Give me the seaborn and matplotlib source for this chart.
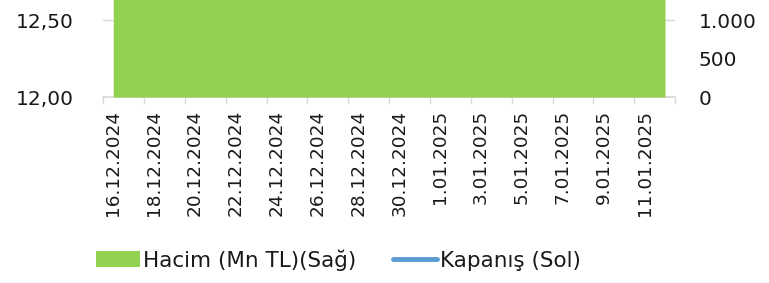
import matplotlib
matplotlib.use("Agg")
import matplotlib.pyplot as plt
import seaborn as sns
import numpy as np
import pandas as pd
from matplotlib.patches import Patch
from matplotlib.lines import Line2D

# Data (daily, 16.12.2024 - 12.01.2025)
dates = ["16.12.2024", "17.12.2024", "18.12.2024", "19.12.2024", "20.12.2024",
         "21.12.2024", "22.12.2024", "23.12.2024", "24.12.2024", "25.12.2024",
         "26.12.2024", "27.12.2024", "28.12.2024", "29.12.2024", "30.12.2024",
         "31.12.2024", "1.01.2025", "2.01.2025", "3.01.2025", "4.01.2025",
         "5.01.2025", "6.01.2025", "7.01.2025", "8.01.2025", "9.01.2025",
         "10.01.2025", "11.01.2025", "12.01.2025"]
# volume runs off the top of the right axis on every day
volume = [2850, 2600, 2400, 2950, 3100, 3100, 3100, 2700, 2500, 2300,
          2650, 2800, 2800, 2800, 3050, 2900, 2900, 2450, 2600, 2600,
          2600, 2750, 3000, 2850, 2550, 2700, 2700, 2700]
# closing price sits above the visible left range
close = [13.10, 13.05, 12.98, 13.20, 13.32, 13.32, 13.32, 13.15, 13.08, 12.95,
         13.02, 13.12, 13.12, 13.12, 13.25, 13.18, 13.18, 13.05, 13.10, 13.10,
         13.10, 13.22, 13.30, 13.26, 13.14, 13.20, 13.20, 13.20]

left_ticks = [12.0, 12.5]
left_labels = ["12,00", "12,50"]
right_ticks = [0, 500, 1000]
right_labels = ["0", "500", "1.000"]

GREEN = "#92D050"
BLUE = "#5B9BD5"
GRID = "#D9D9D9"
TEXT = "#1a1a1a"

sns.set_theme(style="white")
plt.rcParams["font.family"] = ["DejaVu Sans"]

df = pd.DataFrame({"x": np.arange(len(dates)), "date": dates,
                   "volume": volume, "close": close})

fig = plt.figure(figsize=(7.69, 2.83), dpi=100)
ax = fig.add_axes([0.134, 0.657, 0.744, 0.343])
ax2 = ax.twinx()

# volume area on the right axis
ax2.fill_between(df["x"], 0, df["volume"], color=GREEN, linewidth=0, zorder=2)
# closing price on the left axis
sns.lineplot(data=df, x="x", y="close", ax=ax, color=BLUE, linewidth=2.5, zorder=1)

ax.set_xlim(-0.5, len(dates) - 0.5)
ax.set_ylim(12.0, 12.63)
ax2.set_ylim(0, 1260)

ax.set_yticks(left_ticks)
ax.set_yticklabels(left_labels)
ax2.set_yticks(right_ticks)
ax2.set_yticklabels(right_labels)

ax.set_xticks(df["x"][::2])
ax.set_xticklabels(df["date"][::2], rotation=90)
ax.set_xticks(np.arange(-0.5, len(dates), 2), minor=True)
ax.tick_params(axis="x", which="major", length=0, pad=9, labelsize=13.3, colors=TEXT)
ax.tick_params(axis="x", which="minor", bottom=True, length=5, width=1, color=GRID)
ax.tick_params(axis="y", length=0, pad=21, labelsize=14.5, colors=TEXT)
ax2.tick_params(axis="y", length=0, pad=17, labelsize=14.5, colors=TEXT)

ax.grid(axis="y", color=GRID, linewidth=1)
ax.set_axisbelow(True)
ax.set_xlabel("")
ax.set_ylabel("")
ax2.set_ylabel("")

for a in (ax, ax2):
    for side in ("top", "left", "right"):
        a.spines[side].set_visible(False)
    a.spines["bottom"].set_color(GRID)
ax2.spines["bottom"].set_visible(False)

handles = [Patch(facecolor=GREEN, edgecolor="none"),
           Line2D([0], [0], color=BLUE, linewidth=3.5, solid_capstyle="round")]
fig.legend(handles, ["Hacim (Mn TL)(Sağ)", "Kapanış (Sol)"], ncol=2,
           loc="center", bbox_to_anchor=(0.44, 0.082), frameon=False,
           fontsize=15.5, labelcolor=TEXT, handlelength=2.05, handleheight=0.7,
           handletextpad=0.15, columnspacing=1.7)

fig.savefig("out.png", dpi=100)
